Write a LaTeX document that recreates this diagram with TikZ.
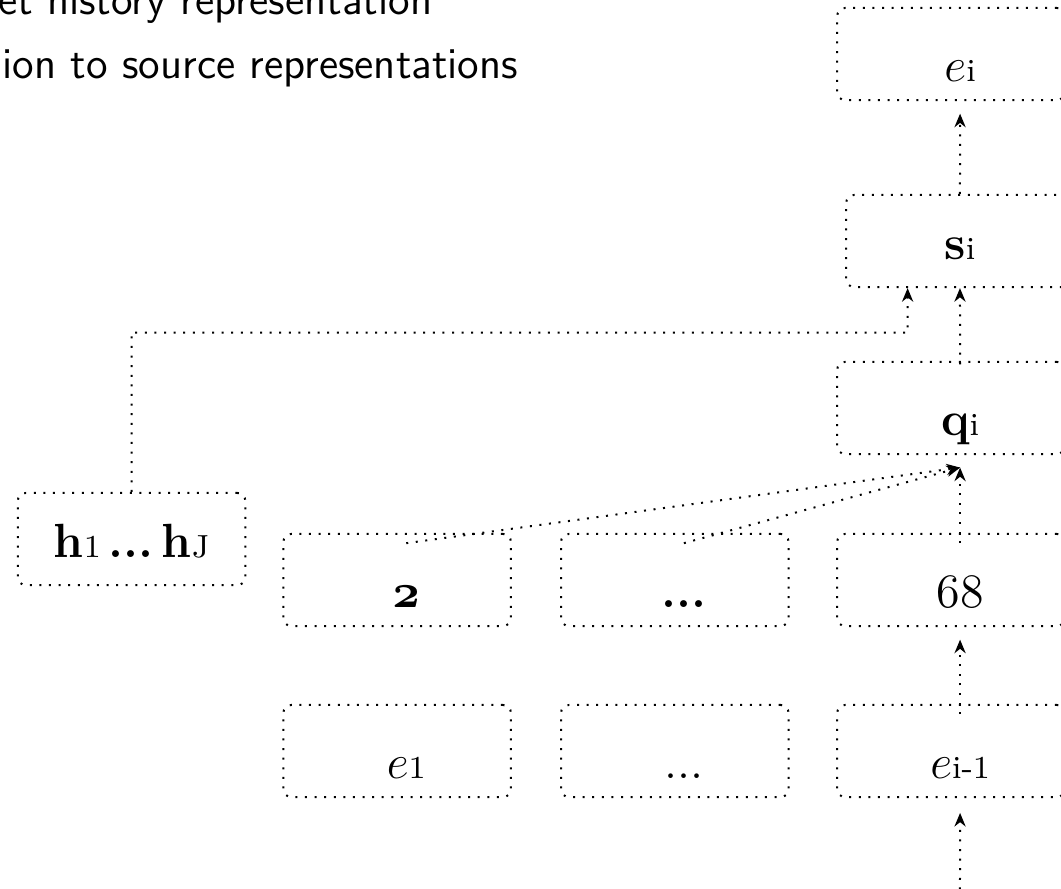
\documentclass[tikz,border=0pt]{standalone}
\usetikzlibrary{arrows.meta}
\newcommand{\idx}[1]{{\fontsize{8}{9}\selectfont #1}}
\tikzset{
  sbox/.style={rectangle, rounded corners=2pt, draw, line width=0.5pt,
               dash pattern=on 0.5pt off 1.9pt,
               minimum width=2cm, minimum height=0.81cm, inner ysep=0.07cm,
               text height=0.5cm, text depth=0.17cm,
               font=\fontsize{12}{14}\selectfont},
  tbox/.style={sbox, text height=0.58cm, text depth=0.09cm,
               execute at begin node={\hspace*{0.16cm}}},
  arr/.style={line width=0.5pt, dash pattern=on 0.5pt off 1.9pt,
              -{Stealth[length=3.4pt, width=2.8pt]}},
  note/.style={inner sep=0pt, font=\sffamily\fontsize{11}{13}\selectfont},
}

\begin{document}
\begin{tikzpicture}
  \clip (0,0) rectangle (9.324,-7.804);

  % slide text
  \node[note, anchor=base east] (hist) at (3.805,-0.123) {et history representation};
  \node[note, anchor=base west] (attn) at (0.018,-0.694) {ion to source representations};

  % decoder column
  \node[tbox] (ei) at (8.357,-0.475) {$e$\idx{i}};
  \node[sbox] (s) at (8.436,-2.118) {\textbf{s}\idx{i}};
  \node[tbox] (q) at (8.357,-3.585) {\textbf{q}\idx{i}};

  % source states
  \node[sbox] (h) at (1.156,-4.737) {\textbf{h}\idx{1}\,\textbf{...}\,\textbf{h}\idx{J}};

  % history row
  \node[tbox] (n2) at (3.49,-5.097) {{\usefont{OML}{cmm}{b}{it}2}};
  \node[tbox] (ndots) at (5.93,-5.097) {\textbf{...}};
  \node[tbox] (n68) at (8.357,-5.097) {68};

  % previous outputs
  \node[tbox] (e1) at (3.49,-6.6) {$e$\idx{1}};
  \node[tbox] (edots) at (5.93,-6.6) {...};
  \node[tbox] (eim) at (8.357,-6.6) {$e$\idx{i-1}};

  % connections
  \coordinate (in) at (8.436,-7.9);
  \draw[arr] (in) -- ([shift={(0.08,-0.13)}]eim.south);
  \draw[arr] ([shift={(0.08,-0.09)}]eim.north) -- ([shift={(0.08,-0.11)}]n68.south);
  \foreach \n in {n68, n2, ndots}
    \draw[arr] ([shift={(0.08,-0.09)}]\n.north) -- ([shift={(0.08,-0.11)}]q.south);
  \draw[arr] ([shift={(0.08,-0.03)}]q.north) -- (s.south);
  \draw[arr] (h.north) |- ([shift={(-0.46,-0.39)}]s.south) -- ([xshift=-0.46cm]s.south);
  \draw[arr] (s.north) -- ([shift={(0.08,-0.11)}]ei.south);
\end{tikzpicture}
\end{document}
